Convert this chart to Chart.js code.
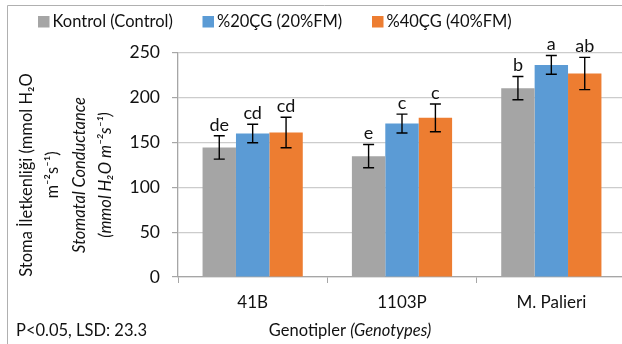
<!DOCTYPE html>
<html><head><meta charset="utf-8">
<script src="https://cdn.jsdelivr.net/npm/chart.js@4"></script>
<style>
html,body{margin:0;padding:0;overflow:hidden;background:#fff;width:622px;height:344px}
#wrap{position:absolute;left:0;top:0;width:640px;height:344px}
</style>
</head><body>
<div id="wrap"><canvas id="c" width="640" height="344"></canvas></div>
<script>
const categories = ['41B', '1103P', 'M. Palieri'];
const seriesNames = ['Kontrol (Control)', '%20ÇG (20%FM)', '%40ÇG (40%FM)'];
const kontrol = [144.4, 134.7, 210.5];
const fm20 = [160, 171, 236.4];
const fm40 = [161, 177.4, 226.8];
const kontrolErr = [13, 13, 13];
const fm20Err = [10.3, 10.5, 10.5];
const fm40Err = [17, 15.5, 18];
const kontrolLetters = ['de', 'e', 'b'];
const fm20Letters = ['cd', 'c', 'a'];
const fm40Letters = ['cd', 'c', 'ab'];
const yTicks = [0, 50, 100, 150, 200, 250];
const yTitleLines = ['Stoma İletkenliği (mmol H₂O', 'm⁻²s⁻¹)', 'Stomatal Conductance', '(mmol H₂O m⁻²s⁻¹)'];
const xTitleNormal = 'Genotipler ';
const xTitleItalic = '(Genotypes)';
const noteText = 'P<0.05, LSD: 23.3';

const colors = ['#a5a5a5', '#5b9bd5', '#ed7d31'];
const FONT = 'Lato';
const TEXT = '#111111';

const errPlugin = {
  id: 'errbars',
  afterDatasetsDraw(chart) {
    const ctx = chart.ctx;
    const ys = chart.scales.y;
    ctx.save();
    chart.data.datasets.forEach((ds, di) => {
      const meta = chart.getDatasetMeta(di);
      meta.data.forEach((el, i) => {
        const v = ds.data[i], e = ds.err[i];
        const yt = ys.getPixelForValue(v + e);
        const yb = ys.getPixelForValue(v - e);
        const x = el.x;
        ctx.strokeStyle = '#000';
        ctx.lineWidth = 1.4;
        ctx.beginPath();
        ctx.moveTo(x, yt); ctx.lineTo(x, yb);
        ctx.moveTo(x - 5.5, yt); ctx.lineTo(x + 5.5, yt);
        ctx.moveTo(x - 5.5, yb); ctx.lineTo(x + 5.5, yb);
        ctx.stroke();
        ctx.fillStyle = TEXT;
        ctx.font = '18px ' + FONT;
        ctx.textAlign = 'center';
        ctx.textBaseline = 'alphabetic';
        ctx.fillText(ds.letters[i], x, yt - 5);
      });
    });
    ctx.restore();
  },
  afterDraw(chart) {
    const ctx = chart.ctx;
    ctx.save();
    // outer border
    ctx.strokeStyle = '#b0b0b0';
    ctx.lineWidth = 1;
    ctx.beginPath();
    ctx.moveTo(7.5, 400); ctx.lineTo(7.5, 5.5); ctx.lineTo(700, 5.5);
    ctx.stroke();
    // legend
    ctx.font = '16.5px ' + FONT;
    ctx.textBaseline = 'middle';
    ctx.textAlign = 'left';
    const lx = [38, 202.5, 372];
    chart.data.datasets.forEach((ds, i) => {
      ctx.fillStyle = ds.backgroundColor;
      ctx.fillRect(lx[i], 16, 11.5, 11.5);
      ctx.fillStyle = TEXT;
      ctx.fillText(ds.label, lx[i] + 14.5, 22);
    });
    // y title
    ctx.save();
    ctx.translate(0, 175);
    ctx.rotate(-Math.PI / 2);
    ctx.textAlign = 'center';
    ctx.textBaseline = 'middle';
    const lineX = [26.5, 53, 80, 106];
    yTitleLines.forEach((t, i) => {
      ctx.font = (i >= 2 ? 'italic ' : '') + '16.5px ' + FONT;
      ctx.fillStyle = TEXT;
      ctx.fillText(t, 0, lineX[i]);
    });
    ctx.restore();
    // x title
    ctx.font = '16.5px ' + FONT;
    const w1 = ctx.measureText(xTitleNormal).width;
    ctx.font = 'italic 16.5px ' + FONT;
    const w2 = ctx.measureText(xTitleItalic).width;
    const sx = 350 - (w1 + w2) / 2;
    ctx.textAlign = 'left';
    ctx.textBaseline = 'alphabetic';
    ctx.fillStyle = TEXT;
    ctx.font = '16.5px ' + FONT;
    ctx.fillText(xTitleNormal, sx, 335.5);
    ctx.font = 'italic 16.5px ' + FONT;
    ctx.fillText(xTitleItalic, sx + w1, 335.5);
    // note
    ctx.font = '16.5px ' + FONT;
    ctx.fillText(noteText, 16, 335.5);
    ctx.restore();
  }
};

function build() {
  const series = [kontrol, fm20, fm40];
  const errs = [kontrolErr, fm20Err, fm40Err];
  const letters = [kontrolLetters, fm20Letters, fm40Letters];
  new Chart(document.getElementById('c'), {
    type: 'bar',
    data: {
      labels: categories,
      datasets: series.map((d, i) => ({
        label: seriesNames[i],
        data: d,
        err: errs[i],
        letters: letters[i],
        backgroundColor: colors[i],
        borderWidth: 0,
        barPercentage: 1,
        categoryPercentage: 0.671
      }))
    },
    options: {
      responsive: false,
      animation: false,
      devicePixelRatio: 1,
      layout: { padding: { left: 0, top: 52.7, right: 14, bottom: 0 } },
      plugins: { legend: { display: false }, tooltip: { enabled: false }, title: { display: false } },
      scales: {
        x: {
          afterFit(s) { s.height = 67; },
          grid: { offset: true, drawOnChartArea: false, drawTicks: true, tickLength: 6, color: '#a6a6a6', tickColor: '#a6a6a6' },
          border: { display: true, color: '#a6a6a6', width: 1.3 },
          ticks: { font: { family: FONT, size: 17 }, color: TEXT, padding: 9, maxRotation: 0, autoSkip: false }
        },
        y: {
          min: 0, max: 250,
          afterFit(s) { s.width = 178; },
          afterBuildTicks(s) { s.ticks = yTicks.map(v => ({ value: v })); },
          grid: { color: '#cccccc', lineWidth: 1.2, drawTicks: true, tickLength: 6, tickColor: '#a6a6a6' },
          border: { display: true, color: '#a6a6a6', width: 1.3 },
          ticks: { font: { family: FONT, size: 17.5 }, color: TEXT, padding: 12 }
        }
      }
    },
    plugins: [errPlugin]
  });
}
if (document.fonts && document.fonts.load) {
  Promise.all([
    document.fonts.load('16.5px Lato'),
    document.fonts.load('italic 16.5px Lato')
  ]).then(build, build);
} else build();
</script>
</body></html>
